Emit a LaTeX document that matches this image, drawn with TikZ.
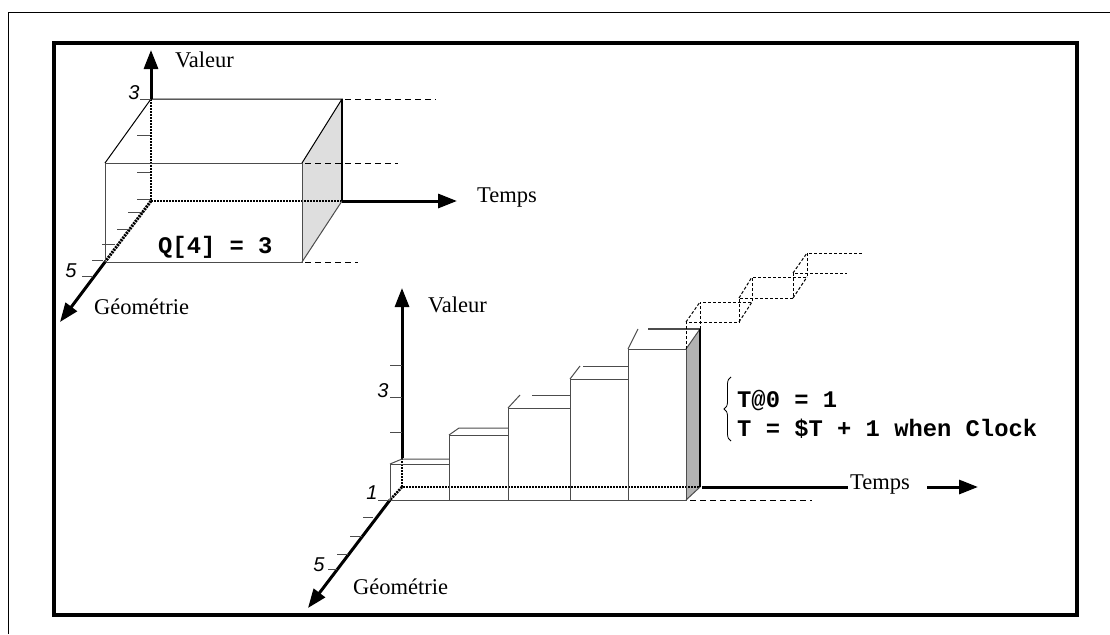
\documentclass[tikz,border=0pt]{standalone}
\usepackage{fontspec}
\setmainfont{Liberation Serif}
\newfontfamily\numfont{Liberation Sans}
\newfontfamily\codefont{Liberation Mono}
\usetikzlibrary{arrows.meta,decorations.pathreplacing}

\begin{document}
\begin{tikzpicture}[x=1pt,y=-1pt,
  axis/.style={line width=3pt,-{Triangle[length=19pt,width=14pt]}},
  axisline/.style={line width=3pt},
  edge/.style={line width=1pt,black!70},
  topedge/.style={line width=1pt,black},
  hidden/.style={line width=2.2pt,dash pattern=on 2pt off 1pt,black},
  guide/.style={line width=1pt,dash pattern=on 6pt off 4pt},
  future/.style={line width=1pt,dash pattern=on 3pt off 2pt},
  tickmark/.style={line width=0.9pt,black!70},
  lbl/.style={font=\fontsize{22.5}{26}\selectfont,inner sep=0pt,anchor=west},
  num/.style={font=\numfont\itshape\fontsize{20}{23}\selectfont,inner sep=0pt},
  code/.style={font=\codefont\bfseries\fontsize{23.8}{26}\selectfont,inner sep=0pt,anchor=base west},
]
\useasboundingbox (0,0) rectangle (1110,634);

% frames
\draw[line width=1pt] (8,634) -- (8,13) -- (1110,13);
\draw[line width=4pt] (54,43) rectangle (1077,615);

% ---------------- single value Q[4] = 3 ----------------
\coordinate (O)  at (151,201);
\coordinate (Ot) at (151,99);
\coordinate (Bt) at (342,99);
\coordinate (Bb) at (342,201);
\coordinate (F)  at (105,262);
\coordinate (Ft) at (105,163);
\coordinate (Gt) at (302,163);
\coordinate (Gb) at (302,262);
\coordinate (Vtip) at (151,50);
\coordinate (Ttip) at (457,201);
\coordinate (Gtip) at (60,322);

\fill[black!13] (Gt) -- (Bt) -- (Bb) -- (Gb) -- cycle;
\draw[hidden] (Ot) -- (O) -- (Bb);
\draw[hidden,line width=3pt] (O) -- (F);
\draw[topedge] (Ft) -- (Ot) -- (Bt) -- (Gt);
\draw[edge] (Ft) -- (Gt) -- (Gb) -- (F) -- cycle;
\draw[edge] (Gb) -- (Bb);
\draw[line width=2pt] (Bt) -- (Bb);

\draw[axis] (Ot) -- (Vtip);
\draw[axis] (Bb) -- (Ttip);
\draw[axis] (F) -- (Gtip);

\draw[guide] (345,99) -- (436,99);
\draw[guide] (305,163) -- (398,163);
\draw[guide] (305,262) -- (358,262);

\foreach \y in {135,172,199} \draw[tickmark] (137,\y) -- (150,\y);
\draw[tickmark] (140,99) -- (151,99);
\foreach \xa/\xb/\y in {128/143/212,117/130/229,102/115/244,92/103/260,82/93/276}
  \draw[tickmark] (\xa,\y) -- (\xb,\y);

\node[num] (n3a) at (134,93) {3};
\node[num] (n5a) at (71,271) {5};
\node[lbl] (val1) at (175,60) {Valeur};
\node[lbl] (tps1) at (477,198) {Temps};
\node[lbl] (geo1) at (94,307) {Géométrie};
\node[code] (q4) at (158,253) {Q[4] = 3};

% ---------------- signal T growing with Clock ----------------
\coordinate (P)  at (402,487);
\coordinate (Pt) at (402,458);
\coordinate (Q)  at (390,500);
\coordinate (R)  at (700,487);
\coordinate (Rt) at (700,329);
\coordinate (S)  at (686,500);
\coordinate (St) at (686,349);
\coordinate (V2tip) at (402,288);
\coordinate (G2tip) at (308,608);

\fill[black!30] (St) -- (Rt) -- (R) -- (S) -- cycle;
\draw[hidden] (Pt) -- (P) -- (R);
\draw[hidden,line width=2.6pt] (P) -- (Q);

\foreach \xa/\xb/\yt in {390/449/464,449/508/435,508/570/408,570/628/379,628/686/349}
  \draw[edge] (\xa,\yt) rectangle (\xb,500);
% top faces
\draw[edge] (390,464) -- (402,459) -- (449,459);
\draw[edge] (449,435) -- (459,428) -- (508,428);
\draw[edge] (508,408) -- (520,395);
\draw[edge] (532,395) -- (570,395);
\draw[edge] (570,379) -- (580,366);
\draw[edge] (583,366) -- (628,366);
\draw[edge] (628,349) -- (638,329);
\draw[edge,line width=1.5pt] (648,329) -- (Rt);
\draw[edge] (St) -- (Rt);
\draw[edge] (S) -- (R);
\draw[line width=2pt] (Rt) -- (R);

% future steps
\draw[future] (St) -- (686,322) -- (739,322) -- (739,298) -- (793,298) -- (793,273) -- (847,273);
\draw[future] (Rt) -- (700,302) -- (752,302) -- (752,277) -- (807,277) -- (807,253) -- (862,253);
\draw[future] (686,322) -- (700,302);
\draw[future] (739,322) -- (752,302);
\draw[future] (739,298) -- (752,277);
\draw[future] (793,298) -- (807,277);
\draw[future] (793,273) -- (807,253);

\draw[axis] (Pt) -- (V2tip);
\draw[axis] (Q) -- (G2tip);
\coordinate (Tend) at (848,487);
\draw[axisline] (702,487) -- (Tend);
\node[lbl] (tps2) at (850,485) {Temps};
\coordinate (Ta) at (927,487);
\coordinate (Tb) at (978,487);
\draw[axis] (Ta) -- (Tb);
\draw[guide] (690,500) -- (812,500);

\foreach \y in {365,397,432} \draw[tickmark] (390,\y) -- (402,\y);
\draw[tickmark] (378,500) -- (390,500);
\foreach \xa/\xb/\y in {363/373/517,350/362/536,337/348/554,328/337/569}
  \draw[tickmark] (\xa,\y) -- (\xb,\y);

\node[num] (n3b) at (383,391) {3};
\node[num] (n1b) at (372,493) {1};
\node[num] (n5b) at (319,565) {5};
\node[lbl] (val2) at (428,305) {Valeur};
\node[lbl] (geo2) at (353,587) {Géométrie};

\draw[line width=0.8pt,decorate,decoration={brace,amplitude=7pt}] (731,441) -- (731,377);
\node[code] (eq1) at (737,407) {T@0 = 1};
\node[code] (eq2) at (737,436) {T = \$T + 1 when Clock};

\end{tikzpicture}
\end{document}
